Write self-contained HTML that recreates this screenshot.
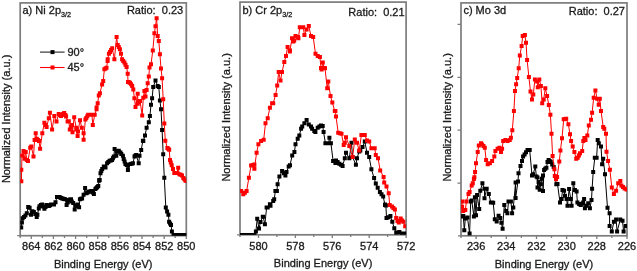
<!DOCTYPE html>
<html><head><meta charset="utf-8"><style>
html,body{margin:0;padding:0;background:#fff;}
body{width:637px;height:271px;position:relative;overflow:hidden;font-family:'Liberation Sans', sans-serif;}
svg text{font-family:'Liberation Sans', sans-serif;stroke:#1a1a1a;stroke-width:0.3px;}
svg{will-change:transform;}
</style></head><body>
<svg width="637" height="271" viewBox="0 0 637 271" style="position:absolute;left:0;top:0"><rect x="20.2" y="2.9" width="166.10000000000002" height="232.79999999999998" fill="none" stroke="#7c7c7c" stroke-width="1.7"/><path d="M31.3 235.7v3.3 M53.4 235.7v3.3 M75.6 235.7v3.3 M97.7 235.7v3.3 M119.9 235.7v3.3 M142 235.7v3.3 M164.2 235.7v3.3 M186.3 235.7v3.3 M20.2 235.7v2.2 M42.3 235.7v2.2 M64.5 235.7v2.2 M86.6 235.7v2.2 M108.8 235.7v2.2 M130.9 235.7v2.2 M153.1 235.7v2.2 M175.2 235.7v2.2 M17.2 235.7h3" stroke="#7c7c7c" stroke-width="1.3" fill="none"/><text x="31.3" y="249.5" text-anchor="middle" font-size="11" fill="#1a1a1a">864</text><text x="53.4" y="249.5" text-anchor="middle" font-size="11" fill="#1a1a1a">862</text><text x="75.6" y="249.5" text-anchor="middle" font-size="11" fill="#1a1a1a">860</text><text x="97.7" y="249.5" text-anchor="middle" font-size="11" fill="#1a1a1a">858</text><text x="119.9" y="249.5" text-anchor="middle" font-size="11" fill="#1a1a1a">856</text><text x="142" y="249.5" text-anchor="middle" font-size="11" fill="#1a1a1a">854</text><text x="164.2" y="249.5" text-anchor="middle" font-size="11" fill="#1a1a1a">852</text><text x="186.3" y="249.5" text-anchor="middle" font-size="11" fill="#1a1a1a">850</text><rect x="240.0" y="2.1" width="166.10000000000002" height="232.70000000000002" fill="none" stroke="#7c7c7c" stroke-width="1.7"/><path d="M258.5 234.8v3.3 M295.4 234.8v3.3 M332.3 234.8v3.3 M369.2 234.8v3.3 M406.1 234.8v3.3 M240 234.8v2.2 M276.9 234.8v2.2 M313.8 234.8v2.2 M350.7 234.8v2.2 M387.6 234.8v2.2 M237.0 234.8h3" stroke="#7c7c7c" stroke-width="1.3" fill="none"/><text x="258.5" y="249.5" text-anchor="middle" font-size="11" fill="#1a1a1a">580</text><text x="295.4" y="249.5" text-anchor="middle" font-size="11" fill="#1a1a1a">578</text><text x="332.3" y="249.5" text-anchor="middle" font-size="11" fill="#1a1a1a">576</text><text x="369.2" y="249.5" text-anchor="middle" font-size="11" fill="#1a1a1a">574</text><text x="406.1" y="249.5" text-anchor="middle" font-size="11" fill="#1a1a1a">572</text><rect x="461.0" y="2.9" width="166.0" height="232.9" fill="none" stroke="#7c7c7c" stroke-width="1.7"/><path d="M476.1 235.8v3.3 M506.3 235.8v3.3 M536.5 235.8v3.3 M566.6 235.8v3.3 M596.8 235.8v3.3 M627 235.8v3.3 M461 235.8v2.2 M491.2 235.8v2.2 M521.4 235.8v2.2 M551.5 235.8v2.2 M581.7 235.8v2.2 M611.9 235.8v2.2 M458.0 235.8h3 M457.5 24.4h3.5 M457.5 77.3h3.5 M457.5 130.2h3.5 M457.5 183.1h3.5" stroke="#7c7c7c" stroke-width="1.3" fill="none"/><text x="476.1" y="249.5" text-anchor="middle" font-size="11" fill="#1a1a1a">236</text><text x="506.3" y="249.5" text-anchor="middle" font-size="11" fill="#1a1a1a">234</text><text x="536.5" y="249.5" text-anchor="middle" font-size="11" fill="#1a1a1a">232</text><text x="566.6" y="249.5" text-anchor="middle" font-size="11" fill="#1a1a1a">230</text><text x="596.8" y="249.5" text-anchor="middle" font-size="11" fill="#1a1a1a">228</text><text x="627" y="249.5" text-anchor="middle" font-size="11" fill="#1a1a1a">226</text><defs><clipPath id="cp0"><rect x="20.2" y="2.9" width="166.10000000000002" height="232.79999999999998"/></clipPath><clipPath id="cp1"><rect x="240.0" y="2.1" width="166.10000000000002" height="232.70000000000002"/></clipPath><clipPath id="cp2"><rect x="461.0" y="2.9" width="166.0" height="232.9"/></clipPath></defs><g clip-path="url(#cp0)"><path d="M21.2 227.4 L21.9 222.5 L22.6 218.3 L24 216.9 L25.4 215.4 L26.8 213.3 L28.2 207 L29.6 207.7 L31 214.7 L32.4 211.2 L33.9 211.9 L35.3 214 L36.7 216.9 L37.4 214.7 L38.8 208.4 L39.5 206.3 L40.9 204.9 L42.2 204.4 L44.4 208.8 L46.6 205.1 L48.9 205.9 L51.1 204.4 L54 204.4 L55.5 202.2 L57 197 L59.2 197 L62.2 198.5 L65.1 199.2 L66.6 205.1 L68.8 199.9 L71 199.2 L71.8 201.4 L73.2 202.9 L74.7 209.5 L75.5 205.9 L77.7 204.4 L79.1 207.3 L79.9 199.2 L82.1 198.5 L83.6 194.8 L85.1 188.1 L86.5 193.3 L88.7 191.8 L91.7 191.1 L93.9 194 L95.4 188.9 L98.3 185.9 L99.1 180.7 L99.3 180 L99.7 179.9 L100.5 173.2 L102.2 169.1 L103.8 166.6 L105.5 167.4 L107.1 163.3 L109.6 160.8 L112.1 159.9 L113.8 156.6 L114.6 149.1 L116.3 155.8 L117.1 151.6 L118.8 150.8 L120.4 152.5 L121.3 154.1 L122.9 155.8 L123.7 159.1 L125.4 164.1 L127.9 165.7 L127.9 169.9 L130.4 164.1 L132.9 163.3 L134.5 156.6 L136.2 155 L138.7 163.3 L139.5 155.8 L141.2 150 L142.9 140.8 L143.3 141 L145 135.5 L146.6 127.7 L148.8 122.2 L149.9 115.9 L151 104.8 L152.1 98.2 L153.2 87.1 L155.5 80.5 L157.7 86 L158.8 87.1 L159.9 100.4 L161 109.3 L162.1 130 L163.2 154.3 L164.3 177.7 L165.8 207.6 L167.1 211.5 L168.4 214.7 L169.1 221.8 L171 225 L171.9 231.5 L173.5 235 L176 235 L180 235 L184 235 L186.5 235" stroke="#000" stroke-width="1" fill="none" stroke-linejoin="round"/><path d="M19.2 225.4h4.0v4.0h-4.0zM19.9 220.5h4.0v4.0h-4.0zM20.6 216.3h4.0v4.0h-4.0zM22 214.9h4.0v4.0h-4.0zM23.4 213.4h4.0v4.0h-4.0zM24.8 211.3h4.0v4.0h-4.0zM26.2 205h4.0v4.0h-4.0zM27.6 205.7h4.0v4.0h-4.0zM29 212.7h4.0v4.0h-4.0zM30.4 209.2h4.0v4.0h-4.0zM31.9 209.9h4.0v4.0h-4.0zM33.3 212h4.0v4.0h-4.0zM34.7 214.9h4.0v4.0h-4.0zM35.4 212.7h4.0v4.0h-4.0zM36.8 206.4h4.0v4.0h-4.0zM37.5 204.3h4.0v4.0h-4.0zM38.9 202.9h4.0v4.0h-4.0zM40.2 202.4h4.0v4.0h-4.0zM41.3 204.6h4.0v4.0h-4.0zM42.4 206.8h4.0v4.0h-4.0zM43.5 204.9h4.0v4.0h-4.0zM44.6 203.1h4.0v4.0h-4.0zM45.8 203.5h4.0v4.0h-4.0zM46.9 203.9h4.0v4.0h-4.0zM48 203.2h4.0v4.0h-4.0zM49.1 202.4h4.0v4.0h-4.0zM50.1 202.4h4.0v4.0h-4.0zM51 202.4h4.0v4.0h-4.0zM52 202.4h4.0v4.0h-4.0zM53.5 200.2h4.0v4.0h-4.0zM55 195h4.0v4.0h-4.0zM56.1 195h4.0v4.0h-4.0zM57.2 195h4.0v4.0h-4.0zM58.2 195.5h4.0v4.0h-4.0zM59.2 196h4.0v4.0h-4.0zM60.2 196.5h4.0v4.0h-4.0zM61.2 196.7h4.0v4.0h-4.0zM62.1 197h4.0v4.0h-4.0zM63.1 197.2h4.0v4.0h-4.0zM64.6 203.1h4.0v4.0h-4.0zM65.7 200.5h4.0v4.0h-4.0zM66.8 197.9h4.0v4.0h-4.0zM67.9 197.6h4.0v4.0h-4.0zM69 197.2h4.0v4.0h-4.0zM69.8 199.4h4.0v4.0h-4.0zM71.2 200.9h4.0v4.0h-4.0zM72.7 207.5h4.0v4.0h-4.0zM73.5 203.9h4.0v4.0h-4.0zM74.6 203.2h4.0v4.0h-4.0zM75.7 202.4h4.0v4.0h-4.0zM77.1 205.3h4.0v4.0h-4.0zM77.9 197.2h4.0v4.0h-4.0zM79 196.8h4.0v4.0h-4.0zM80.1 196.5h4.0v4.0h-4.0zM81.6 192.8h4.0v4.0h-4.0zM83.1 186.1h4.0v4.0h-4.0zM84.5 191.3h4.0v4.0h-4.0zM85.6 190.6h4.0v4.0h-4.0zM86.7 189.8h4.0v4.0h-4.0zM87.7 189.6h4.0v4.0h-4.0zM88.7 189.3h4.0v4.0h-4.0zM89.7 189.1h4.0v4.0h-4.0zM90.8 190.6h4.0v4.0h-4.0zM91.9 192h4.0v4.0h-4.0zM93.4 186.9h4.0v4.0h-4.0zM94.4 185.9h4.0v4.0h-4.0zM95.3 184.9h4.0v4.0h-4.0zM96.3 183.9h4.0v4.0h-4.0zM97.1 178.7h4.0v4.0h-4.0zM97.3 178h4.0v4.0h-4.0zM97.7 177.9h4.0v4.0h-4.0zM98.5 171.2h4.0v4.0h-4.0zM99.3 169.1h4.0v4.0h-4.0zM100.2 167.1h4.0v4.0h-4.0zM101.8 164.6h4.0v4.0h-4.0zM102.7 165h4.0v4.0h-4.0zM103.5 165.4h4.0v4.0h-4.0zM105.1 161.3h4.0v4.0h-4.0zM106.3 160.1h4.0v4.0h-4.0zM107.6 158.8h4.0v4.0h-4.0zM108.8 158.4h4.0v4.0h-4.0zM110.1 157.9h4.0v4.0h-4.0zM110.9 156.2h4.0v4.0h-4.0zM111.8 154.6h4.0v4.0h-4.0zM112.6 147.1h4.0v4.0h-4.0zM114.3 153.8h4.0v4.0h-4.0zM115.1 149.6h4.0v4.0h-4.0zM115.9 149.2h4.0v4.0h-4.0zM116.8 148.8h4.0v4.0h-4.0zM118.4 150.5h4.0v4.0h-4.0zM119.3 152.1h4.0v4.0h-4.0zM120.9 153.8h4.0v4.0h-4.0zM121.7 157.1h4.0v4.0h-4.0zM122.6 159.6h4.0v4.0h-4.0zM123.4 162.1h4.0v4.0h-4.0zM124.7 162.9h4.0v4.0h-4.0zM125.9 163.7h4.0v4.0h-4.0zM125.9 167.9h4.0v4.0h-4.0zM128.4 162.1h4.0v4.0h-4.0zM129.7 161.7h4.0v4.0h-4.0zM130.9 161.3h4.0v4.0h-4.0zM132.5 154.6h4.0v4.0h-4.0zM133.3 153.8h4.0v4.0h-4.0zM134.2 153h4.0v4.0h-4.0zM136.7 161.3h4.0v4.0h-4.0zM137.5 153.8h4.0v4.0h-4.0zM139.2 148h4.0v4.0h-4.0zM140.9 138.8h4.0v4.0h-4.0zM141.3 139h4.0v4.0h-4.0zM143 133.5h4.0v4.0h-4.0zM144.6 125.7h4.0v4.0h-4.0zM146.8 120.2h4.0v4.0h-4.0zM147.9 113.9h4.0v4.0h-4.0zM149 102.8h4.0v4.0h-4.0zM150.1 96.2h4.0v4.0h-4.0zM151.2 85.1h4.0v4.0h-4.0zM153.5 78.5h4.0v4.0h-4.0zM155.7 84h4.0v4.0h-4.0zM156.8 85.1h4.0v4.0h-4.0zM157.9 98.4h4.0v4.0h-4.0zM159 107.3h4.0v4.0h-4.0zM160.1 128h4.0v4.0h-4.0zM161.2 152.3h4.0v4.0h-4.0zM162.3 175.7h4.0v4.0h-4.0zM163.8 205.6h4.0v4.0h-4.0zM165.1 209.5h4.0v4.0h-4.0zM166.4 212.7h4.0v4.0h-4.0zM167.1 219.8h4.0v4.0h-4.0zM168.1 221.4h4.0v4.0h-4.0zM169 223h4.0v4.0h-4.0zM169.9 229.5h4.0v4.0h-4.0zM171.5 233h4.0v4.0h-4.0zM172.8 233h4.0v4.0h-4.0zM174 233h4.0v4.0h-4.0zM175 233h4.0v4.0h-4.0zM176 233h4.0v4.0h-4.0zM177 233h4.0v4.0h-4.0zM178 233h4.0v4.0h-4.0zM179 233h4.0v4.0h-4.0zM180 233h4.0v4.0h-4.0zM181 233h4.0v4.0h-4.0zM182 233h4.0v4.0h-4.0zM183.2 233h4.0v4.0h-4.0zM184.5 233h4.0v4.0h-4.0z" fill="#000"/></g><g clip-path="url(#cp0)"><path d="M21.3 169.8 L21.3 181.3 L22 155.4 L23.5 151 L24.6 158.7 L25.7 152.1 L26.8 159.9 L28 161 L30.2 147.7 L31.3 146.6 L33.5 156.5 L34.6 140 L35.7 133.3 L36.8 138.8 L39 141.1 L40.1 148.8 L42.3 133.3 L44.4 122.7 L46.6 127.1 L48.8 118.3 L49.9 112.7 L52.1 129.4 L54.3 116 L56.5 121.6 L58.7 113.9 L61 116 L64.2 112.9 L65.4 115 L66.1 116.6 L67.6 121.6 L68.8 121.2 L69.8 129.5 L72 125 L72.5 132.3 L74.2 117.2 L76.2 127.7 L76.5 129.4 L77.6 136 L78 131.4 L80 120.3 L81.8 127.7 L83.6 133.2 L83.6 139.7 L85.4 119.4 L88.2 114.8 L91.9 114.8 L92.8 124.9 L94.7 114.8 L96.5 109.2 L96.6 107.6 L97.7 103.2 L98.8 95.4 L99.9 93.2 L102.1 84.4 L103.2 81 L104.4 69.2 L106.5 67.7 L107.6 61.1 L107.7 59.3 L108.9 53.7 L112.2 48.2 L114.4 59.3 L116.6 37.1 L117.7 44.9 L119.9 49.3 L121 53.7 L122.1 59.3 L124.4 62.6 L126.6 67 L127.7 73.7 L128 82 L130 82.7 L132.2 86 L133.3 89.4 L134.4 98.2 L135.5 107 L137.7 93.8 L137.7 103.7 L140 101 L142.2 115.4 L143.3 97.7 L144.4 91 L145.5 96.5 L146.6 89.9 L147.7 83.3 L148.8 76.6 L149.5 67.6 L151 64.2 L152.8 50.5 L154.4 33.2 L155.5 26.2 L156.6 18.2 L157.7 36.1 L158.8 41 L159.9 54.3 L161 68.5 L162.1 78.3 L163.2 99.3 L164.3 123.5 L165.3 140.7 L167.4 148 L169.2 149.7 L170 160 L171.7 165.2 L173 169 L174.3 172.9 L176.9 172.9 L178.2 167.8 L179.4 174.2 L182 175.5 L183.3 178 L185.4 180.6 L186.5 181" stroke="#f00" stroke-width="1" fill="none" stroke-linejoin="round"/><path d="M19.3 167.8h4.0v4.0h-4.0zM19.3 179.3h4.0v4.0h-4.0zM20 153.4h4.0v4.0h-4.0zM21.5 149h4.0v4.0h-4.0zM22.6 156.7h4.0v4.0h-4.0zM23.7 150.1h4.0v4.0h-4.0zM24.8 157.9h4.0v4.0h-4.0zM26 159h4.0v4.0h-4.0zM28.2 145.7h4.0v4.0h-4.0zM29.3 144.6h4.0v4.0h-4.0zM31.5 154.5h4.0v4.0h-4.0zM32.6 138h4.0v4.0h-4.0zM33.7 131.3h4.0v4.0h-4.0zM34.8 136.8h4.0v4.0h-4.0zM35.9 137.9h4.0v4.0h-4.0zM37 139.1h4.0v4.0h-4.0zM38.1 146.8h4.0v4.0h-4.0zM40.3 131.3h4.0v4.0h-4.0zM42.4 120.7h4.0v4.0h-4.0zM43.5 122.9h4.0v4.0h-4.0zM44.6 125.1h4.0v4.0h-4.0zM46.8 116.3h4.0v4.0h-4.0zM47.9 110.7h4.0v4.0h-4.0zM50.1 127.4h4.0v4.0h-4.0zM52.3 114h4.0v4.0h-4.0zM54.5 119.6h4.0v4.0h-4.0zM56.7 111.9h4.0v4.0h-4.0zM57.9 113h4.0v4.0h-4.0zM59 114h4.0v4.0h-4.0zM60.1 113h4.0v4.0h-4.0zM61.1 111.9h4.0v4.0h-4.0zM62.2 110.9h4.0v4.0h-4.0zM63.4 113h4.0v4.0h-4.0zM64.1 114.6h4.0v4.0h-4.0zM65.6 119.6h4.0v4.0h-4.0zM66.8 119.2h4.0v4.0h-4.0zM67.8 127.5h4.0v4.0h-4.0zM68.9 125.2h4.0v4.0h-4.0zM70 123h4.0v4.0h-4.0zM70.5 130.3h4.0v4.0h-4.0zM72.2 115.2h4.0v4.0h-4.0zM74.2 125.7h4.0v4.0h-4.0zM74.5 127.4h4.0v4.0h-4.0zM75.6 134h4.0v4.0h-4.0zM76 129.4h4.0v4.0h-4.0zM78 118.3h4.0v4.0h-4.0zM79.8 125.7h4.0v4.0h-4.0zM81.6 131.2h4.0v4.0h-4.0zM81.6 137.7h4.0v4.0h-4.0zM83.4 117.4h4.0v4.0h-4.0zM84.3 115.9h4.0v4.0h-4.0zM85.3 114.3h4.0v4.0h-4.0zM86.2 112.8h4.0v4.0h-4.0zM87.4 112.8h4.0v4.0h-4.0zM88.7 112.8h4.0v4.0h-4.0zM89.9 112.8h4.0v4.0h-4.0zM90.8 122.9h4.0v4.0h-4.0zM92.7 112.8h4.0v4.0h-4.0zM94.5 107.2h4.0v4.0h-4.0zM94.6 105.6h4.0v4.0h-4.0zM95.7 101.2h4.0v4.0h-4.0zM96.8 93.4h4.0v4.0h-4.0zM97.9 91.2h4.0v4.0h-4.0zM100.1 82.4h4.0v4.0h-4.0zM101.2 79h4.0v4.0h-4.0zM102.4 67.2h4.0v4.0h-4.0zM103.5 66.5h4.0v4.0h-4.0zM104.5 65.7h4.0v4.0h-4.0zM105.6 59.1h4.0v4.0h-4.0zM105.7 57.3h4.0v4.0h-4.0zM106.9 51.7h4.0v4.0h-4.0zM108 49.9h4.0v4.0h-4.0zM109.1 48h4.0v4.0h-4.0zM110.2 46.2h4.0v4.0h-4.0zM112.4 57.3h4.0v4.0h-4.0zM114.6 35.1h4.0v4.0h-4.0zM115.7 42.9h4.0v4.0h-4.0zM116.8 45.1h4.0v4.0h-4.0zM117.9 47.3h4.0v4.0h-4.0zM119 51.7h4.0v4.0h-4.0zM120.1 57.3h4.0v4.0h-4.0zM121.2 59h4.0v4.0h-4.0zM122.4 60.6h4.0v4.0h-4.0zM123.5 62.8h4.0v4.0h-4.0zM124.6 65h4.0v4.0h-4.0zM125.7 71.7h4.0v4.0h-4.0zM126 80h4.0v4.0h-4.0zM127 80.3h4.0v4.0h-4.0zM128 80.7h4.0v4.0h-4.0zM129.1 82.3h4.0v4.0h-4.0zM130.2 84h4.0v4.0h-4.0zM131.3 87.4h4.0v4.0h-4.0zM132.4 96.2h4.0v4.0h-4.0zM133.5 105h4.0v4.0h-4.0zM135.7 91.8h4.0v4.0h-4.0zM135.7 101.7h4.0v4.0h-4.0zM136.8 100.3h4.0v4.0h-4.0zM138 99h4.0v4.0h-4.0zM140.2 113.4h4.0v4.0h-4.0zM141.3 95.7h4.0v4.0h-4.0zM142.4 89h4.0v4.0h-4.0zM143.5 94.5h4.0v4.0h-4.0zM144.6 87.9h4.0v4.0h-4.0zM145.7 81.3h4.0v4.0h-4.0zM146.8 74.6h4.0v4.0h-4.0zM147.5 65.6h4.0v4.0h-4.0zM149 62.2h4.0v4.0h-4.0zM150.8 48.5h4.0v4.0h-4.0zM152.4 31.2h4.0v4.0h-4.0zM153.5 24.2h4.0v4.0h-4.0zM154.6 16.2h4.0v4.0h-4.0zM155.7 34.1h4.0v4.0h-4.0zM156.8 39h4.0v4.0h-4.0zM157.9 52.3h4.0v4.0h-4.0zM159 66.5h4.0v4.0h-4.0zM160.1 76.3h4.0v4.0h-4.0zM161.2 97.3h4.0v4.0h-4.0zM162.3 121.5h4.0v4.0h-4.0zM163.3 138.7h4.0v4.0h-4.0zM165.4 146h4.0v4.0h-4.0zM166.3 146.8h4.0v4.0h-4.0zM167.2 147.7h4.0v4.0h-4.0zM168 158h4.0v4.0h-4.0zM168.8 160.6h4.0v4.0h-4.0zM169.7 163.2h4.0v4.0h-4.0zM171 167h4.0v4.0h-4.0zM172.3 170.9h4.0v4.0h-4.0zM173.6 170.9h4.0v4.0h-4.0zM174.9 170.9h4.0v4.0h-4.0zM176.2 165.8h4.0v4.0h-4.0zM177.4 172.2h4.0v4.0h-4.0zM178.7 172.8h4.0v4.0h-4.0zM180 173.5h4.0v4.0h-4.0zM181.3 176h4.0v4.0h-4.0zM182.4 177.3h4.0v4.0h-4.0zM183.4 178.6h4.0v4.0h-4.0zM184.5 179h4.0v4.0h-4.0z" fill="#f00"/></g><g clip-path="url(#cp1)"><path d="M240 235 L244 235 L248 235 L252 235 L254.5 235 L255.9 231.6 L257.2 218.7 L259 228.4 L260.5 221.9 L262.8 216.8 L263.1 216.8 L264.9 224.2 L266.6 207.6 L267.7 207.5 L269.9 204.2 L270.5 205.7 L273.2 201.1 L274.2 199.2 L275.4 191 L276.9 190.9 L277.6 184.3 L279.4 176.6 L282.1 171 L285.4 175.5 L286.5 172.1 L288.7 166.6 L290 165.3 L292.2 155.4 L294.4 152 L295.5 144.3 L297.7 138.8 L299.3 135.4 L301.1 128.8 L302.2 126.6 L304.4 123.3 L306.6 120 L308.8 124.4 L311 126.6 L312.1 128.8 L314.3 131 L315.4 132.1 L317.7 127.7 L321 125.5 L322.7 126 L323.6 132.1 L325.4 143.2 L328.7 143.2 L329.4 137.7 L330.9 143.2 L333.1 160.9 L335.4 163.1 L336 160.4 L339.3 163.7 L342.6 165.9 L344.8 158.2 L346 152.7 L349.3 158.2 L351.5 142.7 L352.6 157.1 L355.9 164.8 L357 158.2 L359.2 151.5 L360.3 150.4 L362.5 147.1 L364.8 141.6 L367 152.7 L369.2 157.1 L371.4 169.2 L374.1 178.1 L375.8 183.6 L377.7 187.7 L379.9 192.1 L383.2 196.6 L385 205 L385.1 204.4 L385.9 205.6 L386.5 217.9 L388.5 217.3 L390.4 216 L392.3 221.8 L394.3 228.2 L396.2 232.7 L399.4 232.1 L402 233.4 L405.2 233.4" stroke="#000" stroke-width="1" fill="none" stroke-linejoin="round"/><path d="M238 233h4.0v4.0h-4.0zM240 233h4.0v4.0h-4.0zM242 233h4.0v4.0h-4.0zM244 233h4.0v4.0h-4.0zM246 233h4.0v4.0h-4.0zM248 233h4.0v4.0h-4.0zM250 233h4.0v4.0h-4.0zM252.5 233h4.0v4.0h-4.0zM253.9 229.6h4.0v4.0h-4.0zM255.2 216.7h4.0v4.0h-4.0zM257 226.4h4.0v4.0h-4.0zM258.5 219.9h4.0v4.0h-4.0zM260.8 214.8h4.0v4.0h-4.0zM261.1 214.8h4.0v4.0h-4.0zM262.9 222.2h4.0v4.0h-4.0zM264.6 205.6h4.0v4.0h-4.0zM265.7 205.5h4.0v4.0h-4.0zM267.9 202.2h4.0v4.0h-4.0zM268.5 203.7h4.0v4.0h-4.0zM271.2 199.1h4.0v4.0h-4.0zM272.2 197.2h4.0v4.0h-4.0zM273.4 189h4.0v4.0h-4.0zM274.9 188.9h4.0v4.0h-4.0zM275.6 182.3h4.0v4.0h-4.0zM277.4 174.6h4.0v4.0h-4.0zM280.1 169h4.0v4.0h-4.0zM281.8 171.2h4.0v4.0h-4.0zM283.4 173.5h4.0v4.0h-4.0zM284.5 170.1h4.0v4.0h-4.0zM286.7 164.6h4.0v4.0h-4.0zM288 163.3h4.0v4.0h-4.0zM290.2 153.4h4.0v4.0h-4.0zM292.4 150h4.0v4.0h-4.0zM293.5 142.3h4.0v4.0h-4.0zM295.7 136.8h4.0v4.0h-4.0zM297.3 133.4h4.0v4.0h-4.0zM299.1 126.8h4.0v4.0h-4.0zM300.2 124.6h4.0v4.0h-4.0zM302.4 121.3h4.0v4.0h-4.0zM304.6 118h4.0v4.0h-4.0zM306.8 122.4h4.0v4.0h-4.0zM309 124.6h4.0v4.0h-4.0zM310.1 126.8h4.0v4.0h-4.0zM312.3 129h4.0v4.0h-4.0zM313.4 130.1h4.0v4.0h-4.0zM315.7 125.7h4.0v4.0h-4.0zM317.4 124.6h4.0v4.0h-4.0zM319 123.5h4.0v4.0h-4.0zM320.7 124h4.0v4.0h-4.0zM321.6 130.1h4.0v4.0h-4.0zM323.4 141.2h4.0v4.0h-4.0zM325 141.2h4.0v4.0h-4.0zM326.7 141.2h4.0v4.0h-4.0zM327.4 135.7h4.0v4.0h-4.0zM328.9 141.2h4.0v4.0h-4.0zM331.1 158.9h4.0v4.0h-4.0zM333.4 161.1h4.0v4.0h-4.0zM334 158.4h4.0v4.0h-4.0zM335.6 160.1h4.0v4.0h-4.0zM337.3 161.7h4.0v4.0h-4.0zM339 162.8h4.0v4.0h-4.0zM340.6 163.9h4.0v4.0h-4.0zM342.8 156.2h4.0v4.0h-4.0zM344 150.7h4.0v4.0h-4.0zM347.3 156.2h4.0v4.0h-4.0zM349.5 140.7h4.0v4.0h-4.0zM350.6 155.1h4.0v4.0h-4.0zM353.9 162.8h4.0v4.0h-4.0zM355 156.2h4.0v4.0h-4.0zM357.2 149.5h4.0v4.0h-4.0zM358.3 148.4h4.0v4.0h-4.0zM360.5 145.1h4.0v4.0h-4.0zM362.8 139.6h4.0v4.0h-4.0zM365 150.7h4.0v4.0h-4.0zM367.2 155.1h4.0v4.0h-4.0zM369.4 167.2h4.0v4.0h-4.0zM372.1 176.1h4.0v4.0h-4.0zM373.8 181.6h4.0v4.0h-4.0zM375.7 185.7h4.0v4.0h-4.0zM377.9 190.1h4.0v4.0h-4.0zM379.5 192.3h4.0v4.0h-4.0zM381.2 194.6h4.0v4.0h-4.0zM383 203h4.0v4.0h-4.0zM383.1 202.4h4.0v4.0h-4.0zM383.9 203.6h4.0v4.0h-4.0zM384.5 215.9h4.0v4.0h-4.0zM386.5 215.3h4.0v4.0h-4.0zM388.4 214h4.0v4.0h-4.0zM390.3 219.8h4.0v4.0h-4.0zM392.3 226.2h4.0v4.0h-4.0zM394.2 230.7h4.0v4.0h-4.0zM395.8 230.4h4.0v4.0h-4.0zM397.4 230.1h4.0v4.0h-4.0zM400 231.4h4.0v4.0h-4.0zM401.6 231.4h4.0v4.0h-4.0zM403.2 231.4h4.0v4.0h-4.0z" fill="#000"/></g><g clip-path="url(#cp1)"><path d="M241.1 191 L243.3 194.3 L246.6 191 L248.9 177.7 L251.1 165.5 L254.4 164.4 L254.4 168.8 L256.6 152.7 L258.4 144.3 L261.1 141 L263.7 139.8 L265.5 123.2 L267.7 118.2 L269.9 107.7 L272.1 103.3 L273.2 103.2 L275.6 94.9 L277.2 85.6 L278.7 72.1 L280.5 80.6 L282 72.1 L284.3 62 L286 56 L287.6 47.1 L289.8 51.5 L290 50.4 L292 38.2 L293.3 41.6 L294.2 40.5 L295.5 36 L298 37.1 L298.4 38.2 L299.8 27.2 L301.1 27.2 L303.3 27.2 L304.4 35 L306.6 29.4 L308.8 26.1 L311 36 L313.2 37.1 L315.5 53.7 L317.7 56 L319.9 57 L321 68.1 L321.6 69.4 L322.8 62.6 L324.3 68.1 L325 68.3 L327.2 88.2 L328.3 81.6 L330.5 96 L332.3 102.6 L334.8 111.1 L335.4 111 L336 116.4 L338.2 132.7 L341.5 133.8 L343.7 144.9 L344.8 142.7 L346 137.2 L349.3 146 L352.6 157.1 L354.8 139.4 L357 142.7 L359.2 150.4 L361.4 135 L364.8 135 L367 140.5 L369.2 141.6 L371.4 148.2 L374.7 148.2 L375.8 154.9 L378 158.2 L380.2 170.4 L383.6 177 L384.2 182.5 L386.5 186.6 L388.7 193.2 L389.7 205 L392 206.5 L394.9 209.5 L396.2 217.9 L397.5 221.1 L398.8 222.4 L400.7 218.5 L402 220.5 L403.3 221.8 L405.2 226.3" stroke="#f00" stroke-width="1" fill="none" stroke-linejoin="round"/><path d="M239.1 189h4.0v4.0h-4.0zM241.3 192.3h4.0v4.0h-4.0zM242.9 190.7h4.0v4.0h-4.0zM244.6 189h4.0v4.0h-4.0zM246.9 175.7h4.0v4.0h-4.0zM249.1 163.5h4.0v4.0h-4.0zM250.8 162.9h4.0v4.0h-4.0zM252.4 162.4h4.0v4.0h-4.0zM252.4 166.8h4.0v4.0h-4.0zM254.6 150.7h4.0v4.0h-4.0zM256.4 142.3h4.0v4.0h-4.0zM259.1 139h4.0v4.0h-4.0zM261.7 137.8h4.0v4.0h-4.0zM263.5 121.2h4.0v4.0h-4.0zM265.7 116.2h4.0v4.0h-4.0zM267.9 105.7h4.0v4.0h-4.0zM270.1 101.3h4.0v4.0h-4.0zM271.2 101.2h4.0v4.0h-4.0zM273.6 92.9h4.0v4.0h-4.0zM275.2 83.6h4.0v4.0h-4.0zM276.7 70.1h4.0v4.0h-4.0zM278.5 78.6h4.0v4.0h-4.0zM280 70.1h4.0v4.0h-4.0zM282.3 60h4.0v4.0h-4.0zM284 54h4.0v4.0h-4.0zM285.6 45.1h4.0v4.0h-4.0zM287.8 49.5h4.0v4.0h-4.0zM288 48.4h4.0v4.0h-4.0zM290 36.2h4.0v4.0h-4.0zM291.3 39.6h4.0v4.0h-4.0zM292.2 38.5h4.0v4.0h-4.0zM293.5 34h4.0v4.0h-4.0zM296 35.1h4.0v4.0h-4.0zM296.4 36.2h4.0v4.0h-4.0zM297.8 25.2h4.0v4.0h-4.0zM299.1 25.2h4.0v4.0h-4.0zM301.3 25.2h4.0v4.0h-4.0zM302.4 33h4.0v4.0h-4.0zM304.6 27.4h4.0v4.0h-4.0zM306.8 24.1h4.0v4.0h-4.0zM309 34h4.0v4.0h-4.0zM311.2 35.1h4.0v4.0h-4.0zM313.5 51.7h4.0v4.0h-4.0zM315.7 54h4.0v4.0h-4.0zM317.9 55h4.0v4.0h-4.0zM319 66.1h4.0v4.0h-4.0zM319.6 67.4h4.0v4.0h-4.0zM320.8 60.6h4.0v4.0h-4.0zM322.3 66.1h4.0v4.0h-4.0zM323 66.3h4.0v4.0h-4.0zM325.2 86.2h4.0v4.0h-4.0zM326.3 79.6h4.0v4.0h-4.0zM328.5 94h4.0v4.0h-4.0zM330.3 100.6h4.0v4.0h-4.0zM332.8 109.1h4.0v4.0h-4.0zM333.4 109h4.0v4.0h-4.0zM334 114.4h4.0v4.0h-4.0zM336.2 130.7h4.0v4.0h-4.0zM337.9 131.2h4.0v4.0h-4.0zM339.5 131.8h4.0v4.0h-4.0zM341.7 142.9h4.0v4.0h-4.0zM342.8 140.7h4.0v4.0h-4.0zM344 135.2h4.0v4.0h-4.0zM347.3 144h4.0v4.0h-4.0zM350.6 155.1h4.0v4.0h-4.0zM352.8 137.4h4.0v4.0h-4.0zM355 140.7h4.0v4.0h-4.0zM357.2 148.4h4.0v4.0h-4.0zM359.4 133h4.0v4.0h-4.0zM361.1 133h4.0v4.0h-4.0zM362.8 133h4.0v4.0h-4.0zM365 138.5h4.0v4.0h-4.0zM367.2 139.6h4.0v4.0h-4.0zM369.4 146.2h4.0v4.0h-4.0zM371 146.2h4.0v4.0h-4.0zM372.7 146.2h4.0v4.0h-4.0zM373.8 152.9h4.0v4.0h-4.0zM376 156.2h4.0v4.0h-4.0zM378.2 168.4h4.0v4.0h-4.0zM381.6 175h4.0v4.0h-4.0zM382.2 180.5h4.0v4.0h-4.0zM384.5 184.6h4.0v4.0h-4.0zM386.7 191.2h4.0v4.0h-4.0zM387.7 203h4.0v4.0h-4.0zM390 204.5h4.0v4.0h-4.0zM391.4 206h4.0v4.0h-4.0zM392.9 207.5h4.0v4.0h-4.0zM394.2 215.9h4.0v4.0h-4.0zM395.5 219.1h4.0v4.0h-4.0zM396.8 220.4h4.0v4.0h-4.0zM398.7 216.5h4.0v4.0h-4.0zM400 218.5h4.0v4.0h-4.0zM401.3 219.8h4.0v4.0h-4.0zM403.2 224.3h4.0v4.0h-4.0z" fill="#f00"/></g><g clip-path="url(#cp2)"><path d="M462.1 216.4 L463.3 216 L464.3 230.3 L465.3 218.5 L467.5 217.5 L469.6 233.5 L470.7 201.5 L471.7 200.4 L473.9 216.4 L474.9 197.2 L476 215.3 L477.1 195.1 L479.2 209 L480.3 190.8 L482.4 183.3 L484.5 188.7 L484.5 198.3 L486.7 188.7 L488.8 194 L490.9 202.5 L493.2 202.7 L494.8 219.2 L496.7 221.6 L498.6 215.7 L500.3 218.1 L501.4 222.8 L502.6 228.7 L504.3 205.1 L506.2 211 L507.4 213.3 L508.5 201.5 L510.9 201.5 L512.1 213.3 L513.3 207.4 L515.6 182.6 L515.6 198 L518 181.4 L518.5 173.2 L520.5 166 L522 161 L523.1 156.6 L527.5 150 L529.7 150 L532 175.4 L533.1 174.3 L535.3 166.6 L536.4 176.5 L537.5 177.6 L537.5 187.6 L538.6 182 L539.7 189.8 L540.8 184.3 L541.9 178.7 L543 175.4 L543 190.9 L544.1 169.9 L546.4 167.7 L547.5 162.1 L548.6 159.9 L549.7 161 L550.8 162.1 L553.7 167.1 L556.3 184.3 L557.5 184.1 L560 202.4 L561.6 199.1 L562.5 190 L564.1 190.8 L565 195.8 L566.6 199.1 L567.5 205.7 L569.1 189.1 L570.8 199.1 L571.6 205.7 L573.3 183.3 L574.9 190 L576.6 191.6 L577.4 202.4 L579.1 204.1 L580.7 204.9 L583.2 202.4 L584.1 199.1 L584.9 208.2 L586.6 205.7 L588.2 203.2 L589.9 208.2 L591.5 199.9 L592.1 188.7 L593.2 172.1 L594.8 157.7 L596.6 157.7 L597.7 140 L598.8 143.3 L601 146.6 L602.1 164.3 L603.2 158.8 L605 174.3 L607.5 207.8 L609.6 213.2 L609.6 226 L611.8 231.4 L613.9 221.8 L616.1 219.6 L617.1 231.4 L620.3 219.6 L622.5 220.7 L623.6 231.4 L625.7 226" stroke="#000" stroke-width="1" fill="none" stroke-linejoin="round"/><path d="M460.1 214.4h4.0v4.0h-4.0zM461.3 214h4.0v4.0h-4.0zM462.3 228.3h4.0v4.0h-4.0zM463.3 216.5h4.0v4.0h-4.0zM465.5 215.5h4.0v4.0h-4.0zM467.6 231.5h4.0v4.0h-4.0zM468.7 199.5h4.0v4.0h-4.0zM469.7 198.4h4.0v4.0h-4.0zM471.9 214.4h4.0v4.0h-4.0zM472.9 195.2h4.0v4.0h-4.0zM474 213.3h4.0v4.0h-4.0zM475.1 193.1h4.0v4.0h-4.0zM477.2 207h4.0v4.0h-4.0zM478.3 188.8h4.0v4.0h-4.0zM480.4 181.3h4.0v4.0h-4.0zM482.5 186.7h4.0v4.0h-4.0zM482.5 196.3h4.0v4.0h-4.0zM484.7 186.7h4.0v4.0h-4.0zM486.8 192h4.0v4.0h-4.0zM488.9 200.5h4.0v4.0h-4.0zM490 200.6h4.0v4.0h-4.0zM491.2 200.7h4.0v4.0h-4.0zM492.8 217.2h4.0v4.0h-4.0zM494.7 219.6h4.0v4.0h-4.0zM496.6 213.7h4.0v4.0h-4.0zM498.3 216.1h4.0v4.0h-4.0zM499.4 220.8h4.0v4.0h-4.0zM500.6 226.7h4.0v4.0h-4.0zM502.3 203.1h4.0v4.0h-4.0zM504.2 209h4.0v4.0h-4.0zM505.4 211.3h4.0v4.0h-4.0zM506.5 199.5h4.0v4.0h-4.0zM507.7 199.5h4.0v4.0h-4.0zM508.9 199.5h4.0v4.0h-4.0zM510.1 211.3h4.0v4.0h-4.0zM511.3 205.4h4.0v4.0h-4.0zM513.6 180.6h4.0v4.0h-4.0zM513.6 196h4.0v4.0h-4.0zM516 179.4h4.0v4.0h-4.0zM516.5 171.2h4.0v4.0h-4.0zM518.5 164h4.0v4.0h-4.0zM520 159h4.0v4.0h-4.0zM521.1 154.6h4.0v4.0h-4.0zM522.6 152.4h4.0v4.0h-4.0zM524 150.2h4.0v4.0h-4.0zM525.5 148h4.0v4.0h-4.0zM527.7 148h4.0v4.0h-4.0zM530 173.4h4.0v4.0h-4.0zM531.1 172.3h4.0v4.0h-4.0zM533.3 164.6h4.0v4.0h-4.0zM534.4 174.5h4.0v4.0h-4.0zM535.5 175.6h4.0v4.0h-4.0zM535.5 185.6h4.0v4.0h-4.0zM536.6 180h4.0v4.0h-4.0zM537.7 187.8h4.0v4.0h-4.0zM538.8 182.3h4.0v4.0h-4.0zM539.9 176.7h4.0v4.0h-4.0zM541 173.4h4.0v4.0h-4.0zM541 188.9h4.0v4.0h-4.0zM542.1 167.9h4.0v4.0h-4.0zM543.2 166.8h4.0v4.0h-4.0zM544.4 165.7h4.0v4.0h-4.0zM545.5 160.1h4.0v4.0h-4.0zM546.6 157.9h4.0v4.0h-4.0zM547.7 159h4.0v4.0h-4.0zM548.8 160.1h4.0v4.0h-4.0zM550.2 162.6h4.0v4.0h-4.0zM551.7 165.1h4.0v4.0h-4.0zM554.3 182.3h4.0v4.0h-4.0zM555.5 182.1h4.0v4.0h-4.0zM558 200.4h4.0v4.0h-4.0zM559.6 197.1h4.0v4.0h-4.0zM560.5 188h4.0v4.0h-4.0zM562.1 188.8h4.0v4.0h-4.0zM563 193.8h4.0v4.0h-4.0zM564.6 197.1h4.0v4.0h-4.0zM565.5 203.7h4.0v4.0h-4.0zM567.1 187.1h4.0v4.0h-4.0zM568.8 197.1h4.0v4.0h-4.0zM569.6 203.7h4.0v4.0h-4.0zM571.3 181.3h4.0v4.0h-4.0zM572.9 188h4.0v4.0h-4.0zM574.6 189.6h4.0v4.0h-4.0zM575.4 200.4h4.0v4.0h-4.0zM577.1 202.1h4.0v4.0h-4.0zM578.7 202.9h4.0v4.0h-4.0zM580 201.7h4.0v4.0h-4.0zM581.2 200.4h4.0v4.0h-4.0zM582.1 197.1h4.0v4.0h-4.0zM582.9 206.2h4.0v4.0h-4.0zM584.6 203.7h4.0v4.0h-4.0zM586.2 201.2h4.0v4.0h-4.0zM587.9 206.2h4.0v4.0h-4.0zM589.5 197.9h4.0v4.0h-4.0zM590.1 186.7h4.0v4.0h-4.0zM591.2 170.1h4.0v4.0h-4.0zM592.8 155.7h4.0v4.0h-4.0zM594.6 155.7h4.0v4.0h-4.0zM595.7 138h4.0v4.0h-4.0zM596.8 141.3h4.0v4.0h-4.0zM599 144.6h4.0v4.0h-4.0zM600.1 162.3h4.0v4.0h-4.0zM601.2 156.8h4.0v4.0h-4.0zM603 172.3h4.0v4.0h-4.0zM605.5 205.8h4.0v4.0h-4.0zM607.6 211.2h4.0v4.0h-4.0zM607.6 224h4.0v4.0h-4.0zM609.8 229.4h4.0v4.0h-4.0zM611.9 219.8h4.0v4.0h-4.0zM614.1 217.6h4.0v4.0h-4.0zM615.1 229.4h4.0v4.0h-4.0zM618.3 217.6h4.0v4.0h-4.0zM620.5 218.7h4.0v4.0h-4.0zM621.6 229.4h4.0v4.0h-4.0zM623.7 224h4.0v4.0h-4.0z" fill="#000"/></g><g clip-path="url(#cp2)"><path d="M462.1 201.5 L462.1 206.8 L463.2 211.1 L465.3 210 L466.4 201.5 L468.5 194 L469.6 191.9 L471.7 185.5 L472.8 183.3 L473.9 179.1 L474.4 177.2 L475.1 172.1 L476 163.2 L477.7 152.1 L478.8 145.5 L481 143.3 L482.1 144.4 L484.8 147.7 L486.1 159.9 L487.7 164.3 L489.9 163.2 L492.1 161 L494.3 156.6 L495.4 151 L497.6 148.8 L499.4 147.7 L501 152.1 L502.1 148.8 L503.2 141.1 L505.4 140 L507.6 141.1 L509.8 140 L510.9 137.7 L512.3 130.3 L513.9 110.9 L515 91 L516.1 84.3 L517.2 78.1 L518.7 68.2 L519.8 55.6 L521.6 46 L522.7 36.1 L524.9 35 L526 42.7 L527.1 60 L528.9 77 L530.5 91.6 L532 99.4 L533.3 94.5 L534.9 79.4 L537.1 81.5 L537.8 87.2 L539.3 79.4 L540.9 86.1 L542.2 103.3 L543.7 99.4 L545.3 88.3 L547.1 96 L548.8 104.9 L550.4 114.8 L551.5 133.7 L552.6 156 L554.4 169.3 L554.8 176 L556 179.3 L557.1 177.1 L559.3 161.6 L560.4 150.5 L562 138.3 L563.7 119.3 L566.2 118.7 L568.4 124.3 L570 134.2 L571.1 141.1 L572.7 146.6 L574.4 152.1 L576.2 158.8 L577.7 157.7 L580 153.2 L582.2 151 L583.3 141.1 L584.4 138 L585.5 140 L587.3 135.5 L588.8 125.4 L591 119.8 L592.1 112.8 L593.7 97.7 L595.4 90.6 L597.2 98.8 L598.7 104.8 L599.8 98.8 L601 111 L603.2 126.9 L604.3 128.7 L606 133.8 L606.5 151.7 L608.1 161 L609.9 169.8 L611.8 187.5 L613.9 193.9 L616.1 190.7 L618.2 183.2 L620.3 181 L621.4 185.4 L624.6 188.6 L626.5 189.6" stroke="#f00" stroke-width="1" fill="none" stroke-linejoin="round"/><path d="M460.1 199.5h4.0v4.0h-4.0zM460.1 204.8h4.0v4.0h-4.0zM461.2 209.1h4.0v4.0h-4.0zM463.3 208h4.0v4.0h-4.0zM464.4 199.5h4.0v4.0h-4.0zM466.5 192h4.0v4.0h-4.0zM467.6 189.9h4.0v4.0h-4.0zM469.7 183.5h4.0v4.0h-4.0zM470.8 181.3h4.0v4.0h-4.0zM471.9 177.1h4.0v4.0h-4.0zM472.4 175.2h4.0v4.0h-4.0zM473.1 170.1h4.0v4.0h-4.0zM474 161.2h4.0v4.0h-4.0zM475.7 150.1h4.0v4.0h-4.0zM476.8 143.5h4.0v4.0h-4.0zM479 141.3h4.0v4.0h-4.0zM480.1 142.4h4.0v4.0h-4.0zM481.5 144.1h4.0v4.0h-4.0zM482.8 145.7h4.0v4.0h-4.0zM484.1 157.9h4.0v4.0h-4.0zM485.7 162.3h4.0v4.0h-4.0zM487.9 161.2h4.0v4.0h-4.0zM490.1 159h4.0v4.0h-4.0zM492.3 154.6h4.0v4.0h-4.0zM493.4 149h4.0v4.0h-4.0zM495.6 146.8h4.0v4.0h-4.0zM497.4 145.7h4.0v4.0h-4.0zM499 150.1h4.0v4.0h-4.0zM500.1 146.8h4.0v4.0h-4.0zM501.2 139.1h4.0v4.0h-4.0zM503.4 138h4.0v4.0h-4.0zM505.6 139.1h4.0v4.0h-4.0zM507.8 138h4.0v4.0h-4.0zM508.9 135.7h4.0v4.0h-4.0zM510.3 128.3h4.0v4.0h-4.0zM511.9 108.9h4.0v4.0h-4.0zM513 89h4.0v4.0h-4.0zM514.1 82.3h4.0v4.0h-4.0zM515.2 76.1h4.0v4.0h-4.0zM516.7 66.2h4.0v4.0h-4.0zM517.8 53.6h4.0v4.0h-4.0zM519.6 44h4.0v4.0h-4.0zM520.7 34.1h4.0v4.0h-4.0zM522.9 33h4.0v4.0h-4.0zM524 40.7h4.0v4.0h-4.0zM525.1 58h4.0v4.0h-4.0zM526.9 75h4.0v4.0h-4.0zM528.5 89.6h4.0v4.0h-4.0zM530 97.4h4.0v4.0h-4.0zM531.3 92.5h4.0v4.0h-4.0zM532.9 77.4h4.0v4.0h-4.0zM535.1 79.5h4.0v4.0h-4.0zM535.8 85.2h4.0v4.0h-4.0zM537.3 77.4h4.0v4.0h-4.0zM538.9 84.1h4.0v4.0h-4.0zM540.2 101.3h4.0v4.0h-4.0zM541.7 97.4h4.0v4.0h-4.0zM543.3 86.3h4.0v4.0h-4.0zM545.1 94h4.0v4.0h-4.0zM546.8 102.9h4.0v4.0h-4.0zM548.4 112.8h4.0v4.0h-4.0zM549.5 131.7h4.0v4.0h-4.0zM550.6 154h4.0v4.0h-4.0zM552.4 167.3h4.0v4.0h-4.0zM552.8 174h4.0v4.0h-4.0zM554 177.3h4.0v4.0h-4.0zM555.1 175.1h4.0v4.0h-4.0zM557.3 159.6h4.0v4.0h-4.0zM558.4 148.5h4.0v4.0h-4.0zM560 136.3h4.0v4.0h-4.0zM561.7 117.3h4.0v4.0h-4.0zM563 117h4.0v4.0h-4.0zM564.2 116.7h4.0v4.0h-4.0zM566.4 122.3h4.0v4.0h-4.0zM568 132.2h4.0v4.0h-4.0zM569.1 139.1h4.0v4.0h-4.0zM570.7 144.6h4.0v4.0h-4.0zM572.4 150.1h4.0v4.0h-4.0zM574.2 156.8h4.0v4.0h-4.0zM575.7 155.7h4.0v4.0h-4.0zM576.9 153.4h4.0v4.0h-4.0zM578 151.2h4.0v4.0h-4.0zM580.2 149h4.0v4.0h-4.0zM581.3 139.1h4.0v4.0h-4.0zM582.4 136h4.0v4.0h-4.0zM583.5 138h4.0v4.0h-4.0zM585.3 133.5h4.0v4.0h-4.0zM586.8 123.4h4.0v4.0h-4.0zM589 117.8h4.0v4.0h-4.0zM590.1 110.8h4.0v4.0h-4.0zM591.7 95.7h4.0v4.0h-4.0zM593.4 88.6h4.0v4.0h-4.0zM595.2 96.8h4.0v4.0h-4.0zM596.7 102.8h4.0v4.0h-4.0zM597.8 96.8h4.0v4.0h-4.0zM599 109h4.0v4.0h-4.0zM601.2 124.9h4.0v4.0h-4.0zM602.3 126.7h4.0v4.0h-4.0zM604 131.8h4.0v4.0h-4.0zM604.5 149.7h4.0v4.0h-4.0zM606.1 159h4.0v4.0h-4.0zM607.9 167.8h4.0v4.0h-4.0zM609.8 185.5h4.0v4.0h-4.0zM611.9 191.9h4.0v4.0h-4.0zM614.1 188.7h4.0v4.0h-4.0zM616.2 181.2h4.0v4.0h-4.0zM618.3 179h4.0v4.0h-4.0zM619.4 183.4h4.0v4.0h-4.0zM621 185h4.0v4.0h-4.0zM622.6 186.6h4.0v4.0h-4.0zM624.5 187.6h4.0v4.0h-4.0z" fill="#f00"/></g><path d="M40 52.1h24.6" stroke="#222" stroke-width="1.1"/><rect x="50.5" y="50.1" width="4" height="4" fill="#000"/><path d="M40 67.5h24.6" stroke="#f00" stroke-width="1.1"/><rect x="50.5" y="65.5" width="4" height="4" fill="#f00"/><text x="22.5" y="14.1" font-size="11" fill="#1a1a1a">a) Ni 2p<tspan font-size="7.2" dy="2.6">3/2</tspan></text><text x="183.2" y="13.7" text-anchor="end" font-size="11" fill="#1a1a1a" xml:space="preserve">Ratio:  0.23</text><text x="103.2" y="267.6" text-anchor="middle" font-size="11" fill="#1a1a1a">Binding Energy (eV)</text><text transform="translate(10.2 118.9) rotate(-90)" text-anchor="middle" font-size="11" fill="#1a1a1a">Normalized Intensity (a.u.)</text><text x="242.4" y="14.3" font-size="11" fill="#1a1a1a">b) Cr 2p<tspan font-size="7.2" dy="2.6">3/2</tspan></text><text x="404.6" y="15.6" text-anchor="end" font-size="11" fill="#1a1a1a" xml:space="preserve">Ratio:  0.21</text><text x="323.1" y="266.9" text-anchor="middle" font-size="11" fill="#1a1a1a">Binding Energy (eV)</text><text transform="translate(230 117.4) rotate(-90)" text-anchor="middle" font-size="11" fill="#1a1a1a">Normalized Intensity (a.u.)</text><text x="463.4" y="14.3" font-size="11" fill="#1a1a1a">c) Mo 3d</text><text x="625.0" y="14.6" text-anchor="end" font-size="11" fill="#1a1a1a" xml:space="preserve">Ratio:  0.27</text><text x="544" y="267.6" text-anchor="middle" font-size="11" fill="#1a1a1a">Binding Energy (eV)</text><text transform="translate(451 117.4) rotate(-90)" text-anchor="middle" font-size="11" fill="#1a1a1a">Normalized Intensity (a.u.)</text><text x="67.5" y="55.8" font-size="11" fill="#1a1a1a">90°</text><text x="67.5" y="71.4" font-size="11" fill="#1a1a1a">45°</text></svg>
</body></html>
